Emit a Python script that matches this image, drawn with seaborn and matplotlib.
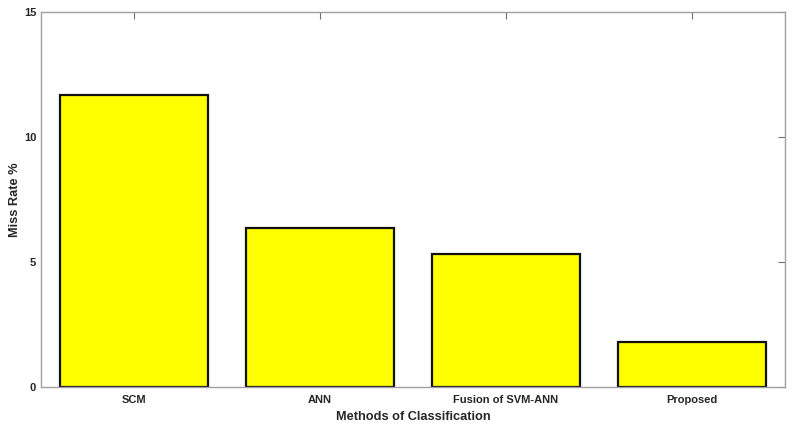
import matplotlib
matplotlib.use("Agg")
import matplotlib.pyplot as plt
import seaborn as sns
import pandas as pd

categories = ["SCM", "ANN", "Fusion of SVM-ANN", "Proposed"]
miss_rate = [11.68, 6.35, 5.31, 1.81]

sns.set_theme(style="white")
plt.rcParams['font.family'] = ['Liberation Sans', 'DejaVu Sans']

df = pd.DataFrame({"Method": categories, "Miss Rate": miss_rate})

fig = plt.figure(figsize=(7.97, 4.30), dpi=100)
ax = fig.add_axes([41/797, 43/430, (785-41)/797, (387-12)/430])

sns.barplot(data=df, x="Method", y="Miss Rate", color="#FFFF00",
            edgecolor="#111111", linewidth=1.6, width=0.8, saturation=1, ax=ax)

ax.set_xlim(-0.5, 3.5)
ax.set_ylim(0, 15)
ax.set_yticks([0, 5, 10, 15])
for s in ax.spines.values():
    s.set_color("#a0a0a0")
    s.set_linewidth(1.0)
ax.tick_params(axis="both", direction="in", length=5, color="#707070", width=0.8,
               labelsize=8, labelcolor="#262626", top=True, right=True)
ax.tick_params(axis="x", pad=6)
for lbl in ax.get_xticklabels() + ax.get_yticklabels():
    lbl.set_fontweight("bold")
ax.set_xlabel("Methods of Classification", fontsize=9.2, fontweight="bold", color="#262626", labelpad=4)
ax.set_ylabel("Miss Rate %", fontsize=9.2, fontweight="bold", color="#262626", labelpad=2)

fig.savefig("out.png", dpi=100)
